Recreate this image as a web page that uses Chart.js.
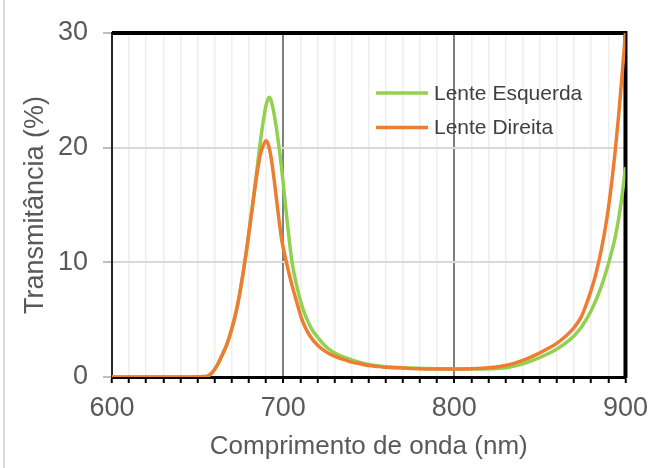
<!DOCTYPE html>
<html lang="pt">
<head>
  <meta charset="UTF-8">
  <title>Transmitância das lentes</title>
  <script src="https://cdn.jsdelivr.net/npm/chart.js@4"></script>
  <style>
    body {
      margin: 0;
      background: #ffffff;
    }
    canvas {
      display: block;
    }
  </style>
</head>
<body>
  <canvas id="grafico" width="657" height="468"></canvas>
  <script>
    // comprimentos de onda (nm)
    const comprimentos = [600, 630, 655, 658, 661, 664, 667, 670, 673, 676, 679, 682, 685, 687, 689, 690, 691, 692, 693, 695, 697, 699, 701, 703, 705, 708, 711, 714, 717, 720, 724, 728, 732, 736, 740, 745, 750, 755, 760, 770, 780, 790, 800, 810, 820, 830, 840, 845, 850, 855, 860, 865, 870, 874, 876, 878, 880, 882, 884, 886, 888, 890, 892, 894, 896, 898, 900];

    const lenteEsquerda = [0, 0, 0.05, 0.3, 0.9, 1.8, 2.8, 4.2, 6.0, 8.5, 11.5, 14.9, 18.5, 20.9, 22.9, 23.7, 24.2, 24.4, 24.1, 22.7, 20.7, 18.3, 15.5, 12.7, 10.2, 7.9, 6.2, 5.0, 4.1, 3.5, 2.8, 2.3, 1.95, 1.7, 1.5, 1.28, 1.1, 0.98, 0.9, 0.8, 0.75, 0.72, 0.7, 0.7, 0.72, 0.8, 1.15, 1.4, 1.7, 2.05, 2.45, 2.95, 3.6, 4.3, 4.75, 5.25, 5.8, 6.45, 7.15, 7.95, 8.85, 9.85, 10.95, 12.2, 13.8, 15.8, 18.3];

    const lenteDireita = [0, 0, 0.05, 0.3, 0.9, 1.8, 2.8, 4.2, 6.0, 8.5, 11.5, 14.8, 18.0, 19.6, 20.4, 20.6, 20.4, 19.9, 19.1, 16.9, 14.4, 12.1, 10.6, 9.3, 8.1, 6.5, 5.0, 4.0, 3.3, 2.8, 2.3, 1.95, 1.7, 1.5, 1.3, 1.15, 1.0, 0.92, 0.85, 0.78, 0.72, 0.7, 0.7, 0.72, 0.8, 1.0, 1.45, 1.75, 2.1, 2.5, 2.95, 3.55, 4.3, 5.2, 5.9, 6.7, 7.6, 8.6, 9.8, 11.2, 12.8, 14.7, 17.0, 19.7, 22.8, 26.3, 30];

    const rotulosX = [600, 700, 800, 900];
    const passoGradeX = 10;
    const rotulosY = [0, 10, 20, 30];

    const corEsquerda = '#92d050';
    const corDireita = '#ed7d31';
    const corTexto = '#595959';

    // linhas de grade a cada 10 nm
    const gradeX = [];
    for (let v = rotulosX[0]; v <= rotulosX[rotulosX.length - 1]; v += passoGradeX) gradeX.push(v);

    // moldura: borda esquerda da imagem + lados de cima e da direita do gráfico
    const moldura = {
      id: 'moldura',
      beforeDraw(chart) {
        const ctx = chart.ctx;
        ctx.save();
        ctx.strokeStyle = '#d9d9d9';
        ctx.lineWidth = 2;
        ctx.beginPath();
        ctx.moveTo(4, 0);
        ctx.lineTo(4, chart.height);
        ctx.stroke();
        ctx.restore();
      },
      beforeDatasetsDraw(chart) {
        const ctx = chart.ctx;
        const ca = chart.chartArea;
        ctx.save();
        ctx.strokeStyle = '#000000';
        ctx.lineWidth = 4;
        ctx.beginPath();
        ctx.moveTo(ca.left, ca.top);
        ctx.lineTo(ca.right, ca.top);
        ctx.lineTo(ca.right, ca.bottom + 1);
        ctx.stroke();
        ctx.restore();
      }
    };

    // legenda dentro da área do gráfico
    const legenda = {
      id: 'legenda',
      afterDatasetsDraw(chart) {
        const ctx = chart.ctx;
        const ca = chart.chartArea;
        const x0 = ca.left + 264;
        let y = ca.top + 60;
        ctx.save();
        ctx.font = '21px "Liberation Sans", Arial, sans-serif';
        ctx.textBaseline = 'middle';
        ctx.fillStyle = '#404040';
        chart.data.datasets.forEach(ds => {
          ctx.strokeStyle = ds.borderColor;
          ctx.lineWidth = 3.5;
          ctx.beginPath();
          ctx.moveTo(x0, y);
          ctx.lineTo(x0 + 52, y);
          ctx.stroke();
          ctx.fillText(ds.label, x0 + 58, y + 1);
          y += 34.6;
        });
        ctx.restore();
      }
    };

    const ctx = document.getElementById('grafico').getContext('2d');
    new Chart(ctx, {
      type: 'line',
      data: {
        datasets: [{
          label: 'Lente Esquerda',
          data: comprimentos.map((x, i) => ({ x: x, y: lenteEsquerda[i] })),
          borderColor: corEsquerda,
          backgroundColor: corEsquerda,
          borderWidth: 3.5,
          pointRadius: 0,
          cubicInterpolationMode: 'monotone',
          order: 1
        }, {
          label: 'Lente Direita',
          data: comprimentos.map((x, i) => ({ x: x, y: lenteDireita[i] })),
          borderColor: corDireita,
          backgroundColor: corDireita,
          borderWidth: 3.5,
          pointRadius: 0,
          cubicInterpolationMode: 'monotone',
          order: 0
        }]
      },
      options: {
        responsive: false,
        animation: false,
        layout: {
          padding: { top: 33, right: 31, left: 0, bottom: 0 }
        },
        plugins: {
          legend: { display: false },
          tooltip: { enabled: false }
        },
        scales: {
          x: {
            type: 'linear',
            min: 600,
            max: 900,
            afterFit(scale) { scale.height = 91; },
            afterBuildTicks(scale) { scale.ticks = gradeX.map(v => ({ value: v })); },
            grid: {
              color: c => (c.tick && (c.tick.value === 700 || c.tick.value === 800)) ? '#7f7f7f' : '#eeeeee',
              lineWidth: c => (c.tick && (c.tick.value === 700 || c.tick.value === 800)) ? 2 : 1.5,
              tickColor: '#000000',
              tickWidth: 2,
              tickLength: 6
            },
            border: { color: '#000000', width: 3 },
            ticks: {
              autoSkip: false,
              maxRotation: 0,
              padding: 9,
              color: corTexto,
              font: { family: '"Liberation Sans", Arial, sans-serif', size: 27 },
              callback: v => rotulosX.includes(v) ? String(v) : ''
            },
            title: {
              display: true,
              text: 'Comprimento de onda (nm)',
              color: corTexto,
              font: { family: '"Liberation Sans", Arial, sans-serif', size: 26 },
              padding: { top: 0, bottom: 6 }
            }
          },
          y: {
            min: 0,
            max: 30,
            afterFit(scale) { scale.width = 112; },
            afterBuildTicks(scale) { scale.ticks = rotulosY.map(v => ({ value: v })); },
            grid: {
              color: '#d9d9d9',
              lineWidth: 2,
              tickColor: '#bfbfbf',
              tickWidth: 2,
              tickLength: 9
            },
            border: { color: '#262626', width: 2 },
            ticks: {
              padding: 15,
              color: corTexto,
              font: { family: '"Liberation Sans", Arial, sans-serif', size: 27 }
            },
            title: {
              display: true,
              text: 'Transmitância (%)',
              color: corTexto,
              font: { family: '"Liberation Sans", Arial, sans-serif', size: 27 },
              padding: { top: 19, bottom: 0 }
            }
          }
        }
      },
      plugins: [moldura, legenda]
    });
  </script>
</body>
</html>
